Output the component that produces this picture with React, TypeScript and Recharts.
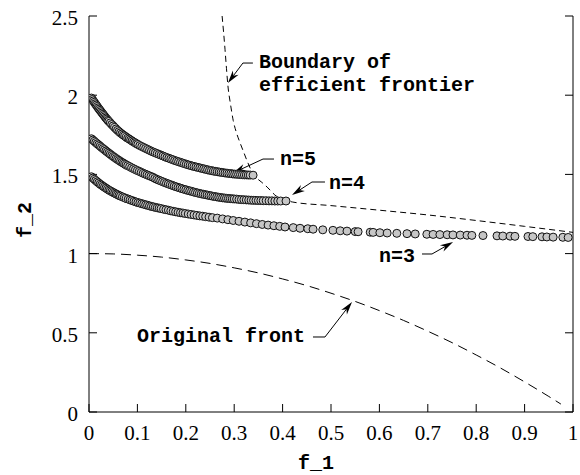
import React from 'react';
import { ComposedChart, XAxis, YAxis, Line, Scatter, ReferenceLine } from 'recharts';

// Axis ticks
const xTicks = [0, 0.1, 0.2, 0.3, 0.4, 0.5, 0.6, 0.7, 0.8, 0.9, 1];
const yTicks = [0, 0.5, 1, 1.5, 2, 2.5];

// Original Pareto front
const originalFront: [number, number][] = [
  [0, 1.0], [0.05, 0.998], [0.1, 0.99], [0.15, 0.978], [0.2, 0.96], [0.25, 0.938],
  [0.3, 0.91], [0.35, 0.878], [0.4, 0.84], [0.45, 0.798], [0.5, 0.75], [0.55, 0.698],
  [0.6, 0.64], [0.65, 0.578], [0.7, 0.51], [0.75, 0.438], [0.8, 0.36], [0.85, 0.278],
  [0.9, 0.19], [0.95, 0.098], [0.975, 0.05],
];

// Boundary of the efficient frontier
const boundary: [number, number][] = [
  [0.275, 2.5], [0.278, 2.4], [0.281, 2.29], [0.284, 2.17], [0.287, 2.06], [0.292, 1.95],
  [0.298, 1.84], [0.305, 1.76], [0.312, 1.7], [0.319, 1.645], [0.326, 1.59], [0.333, 1.54],
  [0.339, 1.5], [0.347, 1.475], [0.357, 1.45], [0.368, 1.42], [0.376, 1.395], [0.384, 1.37],
  [0.395, 1.35], [0.407, 1.335], [0.42, 1.326], [0.5, 1.303], [0.6, 1.274], [0.7, 1.244],
  [0.8, 1.209], [0.9, 1.172], [1.0, 1.134],
];

// Efficient solutions, n = 5
const solutionsN5: [number, number][] = [
  [0.005, 1.982], [0.007, 1.973], [0.009, 1.964], [0.011, 1.955], [0.013, 1.946], [0.015, 1.938],
  [0.017, 1.929], [0.019, 1.92], [0.021, 1.912], [0.023, 1.904], [0.025, 1.896], [0.027, 1.888],
  [0.029, 1.88], [0.031, 1.872], [0.033, 1.864], [0.035, 1.856], [0.037, 1.849], [0.039, 1.841],
  [0.041, 1.835], [0.044, 1.825], [0.047, 1.815], [0.05, 1.806], [0.053, 1.796], [0.056, 1.787],
  [0.059, 1.778], [0.062, 1.77], [0.065, 1.762], [0.068, 1.755], [0.071, 1.748], [0.074, 1.742],
  [0.077, 1.735], [0.08, 1.729], [0.083, 1.723], [0.086, 1.717], [0.089, 1.711], [0.092, 1.705],
  [0.095, 1.7], [0.098, 1.694], [0.101, 1.689], [0.105, 1.682], [0.109, 1.676], [0.113, 1.67],
  [0.117, 1.664], [0.121, 1.658], [0.125, 1.652], [0.129, 1.646], [0.133, 1.641], [0.137, 1.636],
  [0.141, 1.631], [0.145, 1.626], [0.149, 1.621], [0.153, 1.616], [0.157, 1.611], [0.161, 1.606],
  [0.165, 1.602], [0.169, 1.597], [0.173, 1.593], [0.177, 1.588], [0.181, 1.584], [0.185, 1.58],
  [0.189, 1.576], [0.193, 1.572], [0.197, 1.568], [0.201, 1.564], [0.205, 1.56], [0.209, 1.557],
  [0.213, 1.553], [0.217, 1.55], [0.221, 1.547], [0.225, 1.544], [0.229, 1.541], [0.233, 1.538],
  [0.237, 1.535], [0.241, 1.532], [0.245, 1.529], [0.249, 1.526], [0.253, 1.524], [0.257, 1.521],
  [0.261, 1.519], [0.265, 1.517], [0.269, 1.515], [0.273, 1.513], [0.277, 1.511], [0.281, 1.509],
  [0.285, 1.508], [0.289, 1.506], [0.293, 1.505], [0.297, 1.503], [0.301, 1.502], [0.305, 1.501],
  [0.309, 1.5], [0.313, 1.499], [0.317, 1.498], [0.321, 1.497], [0.325, 1.497], [0.329, 1.496],
  [0.333, 1.496], [0.339, 1.495],
];

// Efficient solutions, n = 4
const solutionsN4: [number, number][] = [
  [0.005, 1.725], [0.008, 1.717], [0.011, 1.709], [0.014, 1.701], [0.017, 1.693], [0.02, 1.686],
  [0.023, 1.678], [0.026, 1.67], [0.029, 1.663], [0.032, 1.656], [0.035, 1.648], [0.038, 1.641],
  [0.041, 1.634], [0.044, 1.627], [0.047, 1.62], [0.05, 1.613], [0.053, 1.607], [0.056, 1.6],
  [0.059, 1.594], [0.062, 1.588], [0.065, 1.582], [0.068, 1.576], [0.071, 1.571], [0.074, 1.565],
  [0.077, 1.56], [0.08, 1.555], [0.084, 1.549], [0.088, 1.542], [0.092, 1.536], [0.096, 1.53],
  [0.1, 1.524], [0.104, 1.519], [0.108, 1.513], [0.112, 1.507], [0.116, 1.502], [0.12, 1.497],
  [0.124, 1.492], [0.128, 1.487], [0.132, 1.482], [0.136, 1.475], [0.14, 1.469], [0.144, 1.464],
  [0.148, 1.459], [0.152, 1.454], [0.156, 1.449], [0.16, 1.444], [0.164, 1.44], [0.168, 1.435],
  [0.172, 1.431], [0.176, 1.426], [0.18, 1.422], [0.184, 1.418], [0.188, 1.414], [0.192, 1.41],
  [0.196, 1.406], [0.2, 1.403], [0.204, 1.399], [0.208, 1.396], [0.212, 1.393], [0.216, 1.389],
  [0.22, 1.386], [0.224, 1.383], [0.228, 1.38], [0.232, 1.377], [0.236, 1.375], [0.24, 1.372],
  [0.244, 1.37], [0.248, 1.367], [0.252, 1.365], [0.256, 1.362], [0.26, 1.36], [0.264, 1.358],
  [0.268, 1.356], [0.272, 1.354], [0.276, 1.352], [0.28, 1.351], [0.284, 1.349], [0.288, 1.348],
  [0.292, 1.347], [0.296, 1.346], [0.3, 1.345], [0.305, 1.344], [0.31, 1.342], [0.315, 1.341],
  [0.32, 1.34], [0.325, 1.339], [0.33, 1.338], [0.335, 1.337], [0.34, 1.336], [0.345, 1.336],
  [0.35, 1.335], [0.355, 1.335], [0.36, 1.334], [0.366, 1.334], [0.372, 1.333], [0.378, 1.333],
  [0.384, 1.332], [0.39, 1.332], [0.396, 1.332], [0.407, 1.332],
];

// Efficient solutions, n = 3
const solutionsN3: [number, number][] = [
  [0.005, 1.485], [0.008, 1.477], [0.011, 1.469], [0.014, 1.461], [0.017, 1.453], [0.02, 1.446],
  [0.023, 1.438], [0.026, 1.432], [0.029, 1.425], [0.032, 1.419], [0.035, 1.413], [0.038, 1.407],
  [0.041, 1.401], [0.044, 1.396], [0.047, 1.391], [0.05, 1.386], [0.053, 1.381], [0.056, 1.376],
  [0.059, 1.372], [0.062, 1.367], [0.065, 1.363], [0.069, 1.358], [0.073, 1.353], [0.077, 1.348],
  [0.081, 1.344], [0.085, 1.339], [0.089, 1.335], [0.093, 1.33], [0.097, 1.326], [0.101, 1.322],
  [0.105, 1.319], [0.109, 1.315], [0.113, 1.312], [0.117, 1.308], [0.121, 1.305], [0.125, 1.301],
  [0.129, 1.298], [0.133, 1.295], [0.137, 1.292], [0.141, 1.289], [0.145, 1.287], [0.149, 1.284],
  [0.154, 1.28], [0.159, 1.277], [0.164, 1.274], [0.169, 1.27], [0.174, 1.267], [0.179, 1.264],
  [0.184, 1.261], [0.189, 1.258], [0.194, 1.256], [0.199, 1.253], [0.205, 1.25], [0.211, 1.247],
  [0.217, 1.244], [0.223, 1.241], [0.229, 1.238], [0.235, 1.236], [0.241, 1.233], [0.248, 1.23],
  [0.255, 1.227], [0.265, 1.224], [0.276, 1.219], [0.287, 1.214], [0.298, 1.209], [0.31, 1.204],
  [0.322, 1.199], [0.334, 1.194], [0.346, 1.189], [0.358, 1.184], [0.37, 1.18], [0.382, 1.176],
  [0.394, 1.172], [0.405, 1.168], [0.422, 1.164], [0.436, 1.16], [0.452, 1.157], [0.463, 1.154],
  [0.483, 1.15], [0.504, 1.147], [0.519, 1.144], [0.533, 1.142], [0.55, 1.139], [0.556, 1.138],
  [0.581, 1.135], [0.587, 1.134], [0.601, 1.132], [0.616, 1.13], [0.636, 1.128], [0.657, 1.126],
  [0.674, 1.124], [0.698, 1.122], [0.711, 1.121], [0.725, 1.12], [0.74, 1.119], [0.752, 1.118],
  [0.767, 1.117], [0.781, 1.116], [0.791, 1.115], [0.814, 1.114], [0.843, 1.112], [0.855, 1.111],
  [0.87, 1.11], [0.88, 1.109], [0.907, 1.108], [0.917, 1.107], [0.936, 1.106], [0.946, 1.105],
  [0.959, 1.104], [0.979, 1.103], [0.99, 1.102],
];

const toPoints = (rows: [number, number][]) => rows.map(([x, y]) => ({ x, y }));

const MONO = '"Liberation Mono", "DejaVu Sans Mono", monospace';
const SERIF = '"Liberation Serif", "DejaVu Serif", serif';

type Callout = {
  lines: string[];
  anchor: [number, number];
  tip: [number, number];
  side: 'left' | 'right';
  stub: number;
  gap: number;
  baseline: number;
};

// Leader arrows with their captions (anchor/tip in data units)
const callouts: Callout[] = [
  { lines: ['Boundary of', 'efficient frontier'], anchor: [0.318, 2.203], tip: [0.287, 2.077], side: 'right', stub: 10, gap: 6, baseline: 5 },
  { lines: ['n=5'], anchor: [0.3595, 1.597], tip: [0.2975, 1.509], side: 'right', stub: 11, gap: 6, baseline: 6 },
  { lines: ['n=4'], anchor: [0.4607, 1.452], tip: [0.4194, 1.37], side: 'right', stub: 13, gap: 4, baseline: 7 },
  { lines: ['n=3'], anchor: [0.7087, 0.9975], tip: [0.7521, 1.0732], side: 'left', stub: 10, gap: 7, baseline: 8 },
  { lines: ['Original front'], anchor: [0.4876, 0.4735], tip: [0.5434, 0.6944], side: 'left', stub: 12, gap: 8, baseline: 5 },
];

const calloutShape = (note: Callout) => (p: any) => {
  const { x1, y1, x2, y2 } = p;
  const dir = note.side === 'right' ? 1 : -1;
  const stubEnd = x1 + dir * note.stub;
  const dx = x2 - x1;
  const dy = y2 - y1;
  const len = Math.hypot(dx, dy) || 1;
  const ux = dx / len;
  const uy = dy / len;
  const nx = -uy;
  const ny = ux;
  const L = 13;
  const W = 3.6;
  const bx = x2 - ux * L;
  const by = y2 - uy * L;
  const mx = x2 - ux * L * 0.7;
  const my = y2 - uy * L * 0.7;
  const tx = stubEnd + dir * note.gap;
  return (
    <g>
      <polyline points={`${stubEnd},${y1} ${x1},${y1} ${mx},${my}`} fill="none" stroke="#000" strokeWidth={1} />
      <polygon points={`${x2},${y2} ${bx + nx * W},${by + ny * W} ${mx},${my} ${bx - nx * W},${by - ny * W}`} fill="#000" />
      <text
        x={tx}
        y={y1 + note.baseline}
        textAnchor={dir > 0 ? 'start' : 'end'}
        fontFamily={MONO}
        fontWeight="bold"
        fontSize={20}
        fill="#000"
      >
        {note.lines.map((t, i) => (
          <tspan key={i} x={tx} dy={i === 0 ? 0 : 23}>{t}</tspan>
        ))}
      </text>
    </g>
  );
};

const Bead = (p: any) => (
  <circle cx={p.cx} cy={p.cy} r={4} fill="#c6c6c6" stroke="#111" strokeWidth={1} />
);

// Serif tick labels, drawn below / left of the inward tick marks
const BottomTick = (p: any) => (
  <text x={p.x} y={p.y + 16} textAnchor="middle" fontFamily={SERIF} fontSize={21} fill="#000">
    {String(p.payload.value)}
  </text>
);
const LeftTick = (p: any) => (
  <text x={p.x} y={p.y + 9} textAnchor="end" fontFamily={SERIF} fontSize={21} fill="#000">
    {String(p.payload.value)}
  </text>
);
const NoLabel = () => <g />;

export default function App() {
  return (
    <div style={{ position: 'absolute', left: 0, top: 0, background: '#fff' }}>
      <ComposedChart width={580} height={475} margin={{ top: 16, right: 0, bottom: 0, left: 0 }}>
        <XAxis
          type="number"
          dataKey="x"
          domain={[0, 1]}
          ticks={xTicks}
          allowDataOverflow
          height={63}
          tickSize={-8}
          tickMargin={20}
          tick={BottomTick}
          stroke="#000"
          tickLine={{ stroke: '#000' }}
          axisLine={{ stroke: '#000' }}
          interval={0}
          label={(props: any) => {
            const vb = props.viewBox || { x: 89, width: 484, y: 412, height: 63 };
            return (
              <text x={vb.x + vb.width / 2 - 15} y={vb.y + vb.height - 6} textAnchor="middle" fontFamily={MONO} fontWeight="bold" fontSize={20} fill="#000">
                f_1
              </text>
            );
          }}
        />
        <XAxis
          xAxisId="top"
          orientation="top"
          type="number"
          domain={[0, 1]}
          ticks={xTicks}
          allowDataOverflow
          height={0}
          tickSize={-8}
          tick={NoLabel}
          stroke="#000"
          tickLine={{ stroke: '#000' }}
          axisLine={{ stroke: '#000' }}
          interval={0}
        />
        <YAxis
          type="number"
          dataKey="y"
          domain={[0, 2.5]}
          ticks={yTicks}
          allowDataOverflow
          width={89}
          tickSize={-8}
          tickMargin={19}
          tick={LeftTick}
          stroke="#000"
          tickLine={{ stroke: '#000' }}
          axisLine={{ stroke: '#000' }}
          interval={0}
          label={(props: any) => {
            const vb = props.viewBox || { x: 0, width: 89, y: 16, height: 396 };
            const lx = vb.x + 31;
            const ly = vb.y + vb.height / 2 + 6;
            return (
              <text x={lx} y={ly} transform={`rotate(-90 ${lx} ${ly})`} textAnchor="middle" fontFamily={MONO} fontWeight="bold" fontSize={20} fill="#000">
                f_2
              </text>
            );
          }}
        />
        <YAxis
          yAxisId="right"
          orientation="right"
          type="number"
          domain={[0, 2.5]}
          ticks={yTicks}
          allowDataOverflow
          width={7}
          tickSize={-8}
          tick={NoLabel}
          stroke="#000"
          tickLine={{ stroke: '#000' }}
          axisLine={{ stroke: '#000' }}
          interval={0}
        />
        <Line
          data={toPoints(originalFront)}
          dataKey="y"
          type="monotone"
          stroke="#000"
          strokeWidth={1}
          strokeDasharray="10 6"
          dot={false}
          isAnimationActive={false}
        />
        <Line
          data={toPoints(boundary)}
          dataKey="y"
          type="monotone"
          stroke="#000"
          strokeWidth={1}
          strokeDasharray="6 4"
          dot={false}
          isAnimationActive={false}
        />
        <Scatter data={toPoints(solutionsN3)} dataKey="y" shape={Bead} isAnimationActive={false} />
        <Scatter data={toPoints(solutionsN4)} dataKey="y" shape={Bead} isAnimationActive={false} />
        <Scatter data={toPoints(solutionsN5)} dataKey="y" shape={Bead} isAnimationActive={false} />
        {callouts.map((c, i) => (
          <ReferenceLine
            key={i}
            segment={[{ x: c.anchor[0], y: c.anchor[1] }, { x: c.tip[0], y: c.tip[1] }]}
            ifOverflow="visible"
            shape={calloutShape(c)}
          />
        ))}
      </ComposedChart>
    </div>
  );
}
